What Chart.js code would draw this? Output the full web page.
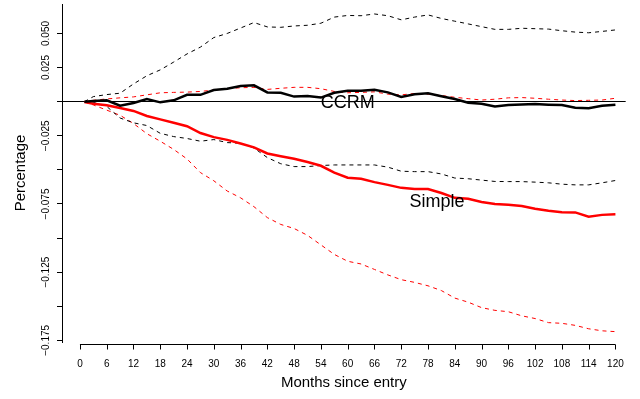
<!DOCTYPE html>
<html>
<head>
<meta charset="utf-8">
<script src="https://cdn.jsdelivr.net/npm/chart.js@4.4.1/dist/chart.umd.min.js"></script>
<style>
  html, body { margin: 0; padding: 0; background: #fff; }
</style>
</head>
<body>
<canvas id="chart" width="640" height="399"></canvas>
<script>
// months since entry at which the curves were read
const months = [1, 3, 6, 9, 12, 15, 18, 21, 24, 27, 30, 33, 36, 39, 42, 45, 48, 51, 54, 57, 60,
                63, 66, 69, 72, 75, 78, 81, 84, 87, 90, 93, 96, 99, 102, 105, 108, 111, 114, 117, 120];

const ccrm = [0, 0.0005, 0.001, -0.003, -0.001, 0.002, -0.0005, 0.001, 0.005, 0.005, 0.0085, 0.0095, 0.0115, 0.012,
              0.0068, 0.0065, 0.0037, 0.0042, 0.003, 0.0065, 0.008, 0.008, 0.0088, 0.0068, 0.0035, 0.0055, 0.0062,
              0.004, 0.002, -0.0008, -0.0015, -0.0035, -0.0025, -0.002, -0.0018, -0.0022, -0.0025, -0.0045,
              -0.0048, -0.003, -0.0022];
const ccrmHi = [0, 0.0037, 0.0052, 0.0062, 0.013, 0.019, 0.0233, 0.029, 0.035, 0.040, 0.047, 0.050, 0.054, 0.058,
                0.0548, 0.0545, 0.0555, 0.056, 0.0575, 0.062, 0.0632, 0.063, 0.0643, 0.063, 0.060, 0.062, 0.0636,
                0.061, 0.059, 0.057, 0.055, 0.053, 0.053, 0.0538, 0.0535, 0.0532, 0.052, 0.051, 0.0505, 0.0515, 0.0526];
const ccrmLo = [0, -0.0005, -0.0035, -0.012, -0.0155, -0.0175, -0.0232, -0.0256, -0.027, -0.029, -0.0278, -0.030,
                -0.0305, -0.034, -0.041, -0.0455, -0.0476, -0.0476, -0.0468, -0.0464, -0.0464, -0.0464, -0.0464,
                -0.048, -0.051, -0.0513, -0.0513, -0.053, -0.056, -0.0565, -0.0575, -0.0585, -0.0586, -0.0586,
                -0.059, -0.0595, -0.0605, -0.061, -0.061, -0.0595, -0.0578];

const simple = [-0.0003, -0.0015, -0.0027, -0.0047, -0.0068, -0.0105, -0.013, -0.0155, -0.018, -0.023, -0.026,
                -0.028, -0.0307, -0.0335, -0.038, -0.040, -0.0418, -0.0442, -0.047, -0.052, -0.0558, -0.0565,
                -0.059, -0.061, -0.0632, -0.064, -0.064, -0.067, -0.0705, -0.0712, -0.0735, -0.075, -0.0755,
                -0.0765, -0.0785, -0.080, -0.081, -0.0812, -0.0843, -0.083, -0.0826];
const simpleHi = [0, 0.001, 0.002, 0.0028, 0.0035, 0.005, 0.0065, 0.0068, 0.007, 0.0075, 0.0085, 0.0095, 0.0102,
                  0.0105, 0.009, 0.0098, 0.0105, 0.0105, 0.0095, 0.0075, 0.0065, 0.0068, 0.0072, 0.0055, 0.005,
                  0.006, 0.0055, 0.0045, 0.0032, 0.0022, 0.0012, 0.0018, 0.0028, 0.003, 0.0025, 0.0018, 0.0012,
                  0.0008, 0.001, 0.0012, 0.0025];
const simpleLo = [0, -0.0024, -0.0062, -0.010, -0.016, -0.0235, -0.029, -0.035, -0.042, -0.052, -0.058, -0.0655,
                  -0.0705, -0.077, -0.085, -0.090, -0.093, -0.098, -0.105, -0.112, -0.117, -0.119, -0.123, -0.127,
                  -0.1305, -0.1325, -0.135, -0.1385, -0.144, -0.147, -0.151, -0.153, -0.154, -0.157, -0.159,
                  -0.162, -0.1625, -0.164, -0.1665, -0.168, -0.1686];

const xTicks = [0, 6, 12, 18, 24, 30, 36, 42, 48, 54, 60, 66, 72, 78, 84, 90, 96, 102, 108, 114, 120];
const yTicks = [-0.175, -0.15, -0.125, -0.1, -0.075, -0.05, -0.025, 0, 0.025, 0.05];
const yTickLabels = ['\u22120.175', '', '\u22120.125', '', '\u22120.075', '', '\u22120.025', '', '0.025', '0.050'];

const lineLabels = [
    { text: 'CCRM', x: 60, y: 0 },
    { text: 'Simple', x: 80, y: -0.0725 }
];

const FONT = '"Liberation Sans", Arial, Helvetica, sans-serif';
Chart.defaults.font.family = FONT;
Chart.defaults.color = '#000';

function points(values) {
    return months.map((m, i) => ({ x: m, y: values[i] }));
}

function series(values, color, width, dashed) {
    return {
        data: points(values),
        borderColor: color,
        borderWidth: width,
        borderDash: dashed ? [4, 4] : [],
        pointRadius: 0,
        tension: 0,
        fill: false
    };
}

// R style extras: detached x axis and the text labels on the curves
const rStyle = {
    id: 'rStyle',
    afterDatasetsDraw(chart) {
        const { ctx, scales: { x, y } } = chart;
        ctx.save();
        const axisY = chart.chartArea.bottom + 2.5;
        ctx.strokeStyle = '#000';
        ctx.lineWidth = 1;
        ctx.beginPath();
        ctx.moveTo(x.getPixelForValue(xTicks[0]), axisY);
        ctx.lineTo(x.getPixelForValue(xTicks[xTicks.length - 1]), axisY);
        xTicks.forEach(t => {
            const px = Math.round(x.getPixelForValue(t)) + 0.5;
            ctx.moveTo(px, axisY);
            ctx.lineTo(px, axisY + 5);
        });
        ctx.stroke();

        ctx.font = '18px ' + FONT;
        ctx.fillStyle = '#000';
        ctx.textAlign = 'center';
        ctx.textBaseline = 'alphabetic';
        lineLabels.forEach(l => {
            ctx.fillText(l.text, x.getPixelForValue(l.x), y.getPixelForValue(l.y) + 6.5);
        });
        ctx.restore();
    }
};

new Chart(document.getElementById('chart'), {
    type: 'line',
    data: {
        datasets: [
            series(ccrm, '#000000', 2.5, false),
            series(simple, '#ff0000', 2.5, false),
            series(ccrmHi, '#000000', 1, true),
            series(ccrmLo, '#000000', 1, true),
            series(simpleHi, '#ff0000', 1, true),
            series(simpleLo, '#ff0000', 1, true)
        ]
    },
    options: {
        responsive: false,
        animation: false,
        layout: { padding: { top: 4, right: 13, left: 0, bottom: 0 } },
        plugins: { legend: { display: false }, tooltip: { enabled: false } },
        scales: {
            x: {
                type: 'linear',
                min: -4.02,
                max: 122.3,
                afterBuildTicks: s => { s.ticks = xTicks.map(v => ({ value: v })); },
                afterFit: s => { s.height = 57; },
                grid: { display: false, drawTicks: false },
                border: { display: false },
                ticks: { color: '#000', font: { size: 10 }, padding: 16, maxRotation: 0, autoSkip: false },
                title: { display: true, text: 'Months since entry', color: '#000', font: { size: 15 }, padding: { top: 0, bottom: 7 } }
            },
            y: {
                type: 'linear',
                min: -0.1762,
                max: 0.0716,
                afterBuildTicks: s => { s.ticks = yTicks.map(v => ({ value: v })); },
                afterFit: s => { s.width = 62; },
                grid: {
                    drawOnChartArea: true,
                    color: c => (c.tick && Math.abs(c.tick.value) < 1e-9) ? '#000' : 'rgba(0,0,0,0)',
                    tickColor: '#000',
                    tickLength: 5,
                    drawTicks: true
                },
                border: { display: true, color: '#000', width: 1 },
                ticks: {
                    color: '#000',
                    font: { size: 10 },
                    padding: -5,
                    minRotation: 90,
                    maxRotation: 90,
                    crossAlign: 'center',
                    autoSkip: false,
                    callback: (v, i) => yTickLabels[i]
                },
                title: { display: true, text: 'Percentage', color: '#000', font: { size: 15 }, padding: { top: 12, bottom: 0 } }
            }
        }
    },
    plugins: [rStyle]
});
</script>
</body>
</html>
